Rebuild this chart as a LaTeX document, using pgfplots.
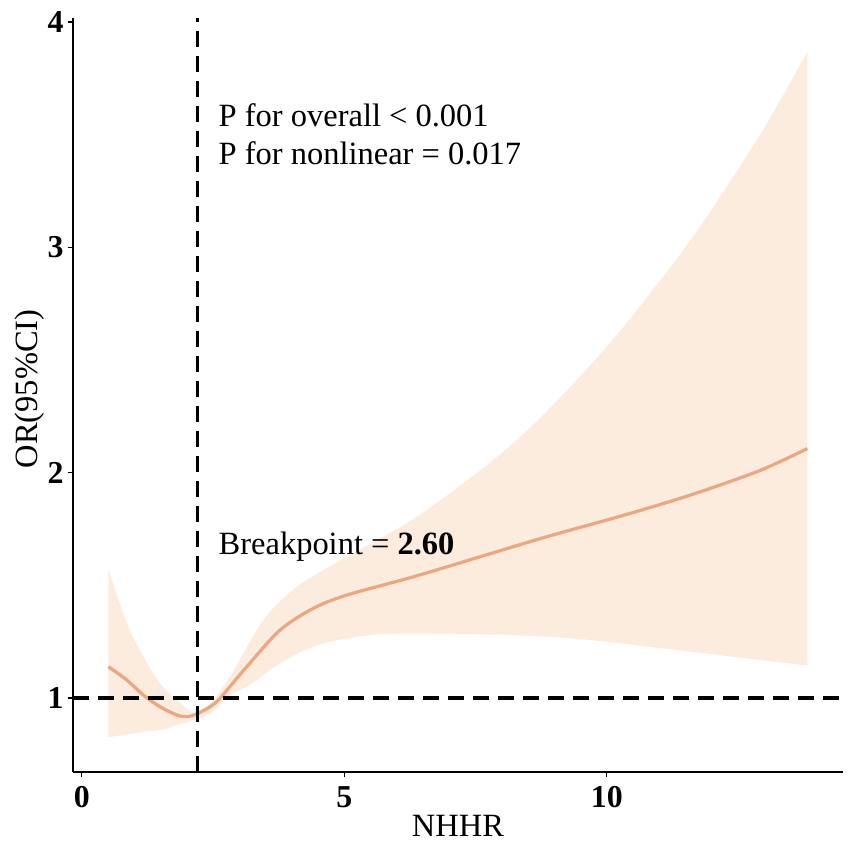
\documentclass[border=0pt]{standalone}
\usepackage{pgfplots}
\pgfplotsset{compat=1.18}
\usepgfplotslibrary{fillbetween}
\usepackage{fontspec}
\setmainfont{Liberation Serif}
\definecolor{curvecol}{RGB}{238,166,128}
\definecolor{bandcol}{RGB}{252,236,222}
\begin{document}
\begin{tikzpicture}
\begin{axis}[
  scale only axis,
  width=385bp, height=377bp,
  xmin=-0.168, xmax=14.5,
  ymin=0.6716, ymax=4.018,
  axis x line*=bottom, axis y line*=left,
  axis line style={line width=0.8bp, -},
  tick align=outside,
  major tick length=2.5bp,
  tick style={line width=0.6bp, black},
  xtick={0,5,10}, ytick={1,2,3,4},
  /pgf/number format/assume math mode=true,
  ticklabel style={font=\fontsize{16}{19}\selectfont\bfseries},
  yticklabel style={inner sep=2bp},
  xticklabel style={inner sep=4.5bp},
  xlabel={NHHR}, ylabel={OR(95\%CI)},
  label style={font=\fontsize{16.3}{19}\selectfont},
  xlabel style={at={(axis description cs:0.5,-0.0862)}, anchor=base},
  ylabel style={at={(axis description cs:-0.0455,0.508)}, anchor=base, rotate=0},
  clip=false,
]
\addplot[name path=up, draw=none, smooth, tension=0.5] coordinates {
 (0.505,1.573) (0.856,1.332) (1.172,1.183) (1.490,1.065) (1.808,0.991)
 (2.125,0.939) (2.443,0.976) (2.824,1.095) (3.459,1.346) (4.095,1.494)
 (5.048,1.627) (6.317,1.795) (7.588,2.010) (8.540,2.200) (9.46,2.420)
 (10.38,2.665) (11.65,3.050) (12.92,3.500) (13.82,3.868)};
\addplot[name path=lo, draw=none, smooth, tension=0.5] coordinates {
 (0.505,0.826) (1.172,0.850) (1.56,0.860) (1.808,0.880) (2.125,0.902)
 (2.443,0.932) (2.761,1.006) (3.142,1.050) (3.777,1.154) (4.411,1.228)
 (5.048,1.265) (5.682,1.283) (6.317,1.287) (7.588,1.283) (8.859,1.272)
 (9.874,1.253) (11.65,1.204) (13.82,1.144)};
\addplot[bandcol, draw=none] fill between[of=up and lo];
\addplot[curvecol, line width=1.6bp, smooth, tension=0.5] coordinates {
 (0.505,1.139) (0.856,1.080) (1.172,1.013) (1.490,0.961) (1.808,0.925)
 (1.999,0.917) (2.189,0.929) (2.443,0.961) (2.633,0.999) (3.142,1.139)
 (3.777,1.302) (4.411,1.398) (5.048,1.457) (6.317,1.538) (7.588,1.627)
 (8.859,1.716) (10.38,1.815) (11.65,1.905) (12.92,2.010) (13.82,2.107)};
\addplot[black, line width=1.6bp, dash pattern=on 8bp off 4.5bp] coordinates {(2.2,0.6716) (2.2,4.018)};
\addplot[black, line width=1.6bp, dash pattern=on 8bp off 4.5bp] coordinates {(-0.168,1) (14.5,1)};
\node[anchor=base west, inner sep=0pt, font=\fontsize{16.3}{19}\selectfont] at (axis cs:2.6,3.536) {P for overall < 0.001};
\node[anchor=base west, inner sep=0pt, font=\fontsize{16.3}{19}\selectfont] at (axis cs:2.6,3.366) {P for nonlinear = 0.017};
\node[anchor=base west, inner sep=0pt, font=\fontsize{16.3}{19}\selectfont] at (axis cs:2.6,1.635) {Breakpoint = \textbf{2.60}};
\end{axis}
\path (current axis.south west) ++(-36.5bp,-40.5bp) coordinate (bbA);
\path (current axis.north east) ++(4bp,9bp) coordinate (bbB);
\useasboundingbox (bbA) rectangle (bbB);
\end{tikzpicture}
\end{document}
